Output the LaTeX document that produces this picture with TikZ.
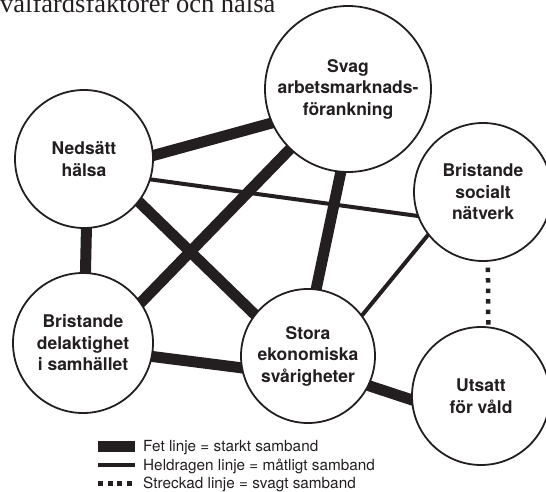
\documentclass[tikz,border=0pt]{standalone}
\usepackage{fontspec}
\setmainfont{TeX Gyre Heros}
\newfontfamily\titlefont{Liberation Serif}
\usetikzlibrary{backgrounds}
\definecolor{ink}{HTML}{231F20}
\begin{document}
\begin{tikzpicture}[x=1pt,y=-1pt,
  factor/.style={circle,draw=ink,line width=1.8pt,fill=white,minimum size=#1,inner sep=0pt,
    align=center,text=ink,font=\bfseries\fontsize{17.5}{21.5}\selectfont},
  strong/.style={draw=ink,line width=11pt,shorten <=-8pt,shorten >=-8pt},
  moderate/.style={draw=ink,line width=4pt,shorten <=-6pt,shorten >=-6pt},
  weak/.style={draw=ink,line width=4.5pt,dash pattern=on 4.5pt off 6pt,dash phase=4.5pt},
  legendtext/.style={anchor=base west,inner sep=0pt,text=ink,font=\fontsize{15.3}{18}\selectfont}]
\useasboundingbox (0,0) rectangle (546,492);

\node[anchor=base west,inner sep=0pt,text=ink,font=\titlefont\fontsize{26.5}{30}\selectfont] (title) at (0,13) {välfärdsfaktorer och hälsa};

\node[factor=138pt] (ned) at (84,159) {Nedsätt\\hälsa};
\node[factor=166pt] (svag) at (348,89) {Svag\\arbetsmarknads-\\förankning};
\node[factor=138pt] (soc) at (483,192) {Bristande\\socialt\\nätverk};
\node[factor=140pt] (del) at (83,343) {Bristande\\delaktighet\\i samhället};
\node[factor=134pt] (sto) at (308,356) {Stora\\ekonomiska\\svårigheter};
\node[factor=138pt] (uts) at (481,396) {Utsatt\\för våld};

\begin{scope}[on background layer]
\draw[strong] (ned.3) -- (svag.204);
\draw[moderate] (ned.-17) -- (soc.200);
\draw[strong] (ned.-38) -- (sto.142);
\draw[strong] (ned.-88) -- (del.88);
\draw[strong] (del.35) -- (svag.226);
\draw[strong] (svag.265) -- (sto.83);
\draw[strong] (del.-11) -- (sto.190);
\draw[moderate] (sto.37) -- (soc.218);
\draw[weak] (soc.-86) -- (uts.84);
\draw[strong] (sto.-26) -- (uts.183);
\end{scope}

\fill[ink] (98,441) rectangle (135,451.5);
\draw[ink,line width=4pt] (98,465) -- (135,465);
\draw[ink,line width=5pt,dash pattern=on 5pt off 4.5pt] (98,483) -- (134,483);
\node[legendtext] (l1) at (143,451.5) {Fet linje = starkt samband};
\node[legendtext] (l2) at (143,470) {Heldragen linje = måtligt samband};
\node[legendtext] (l3) at (143,488.3) {Streckad linje = svagt samband};
\end{tikzpicture}
\end{document}
